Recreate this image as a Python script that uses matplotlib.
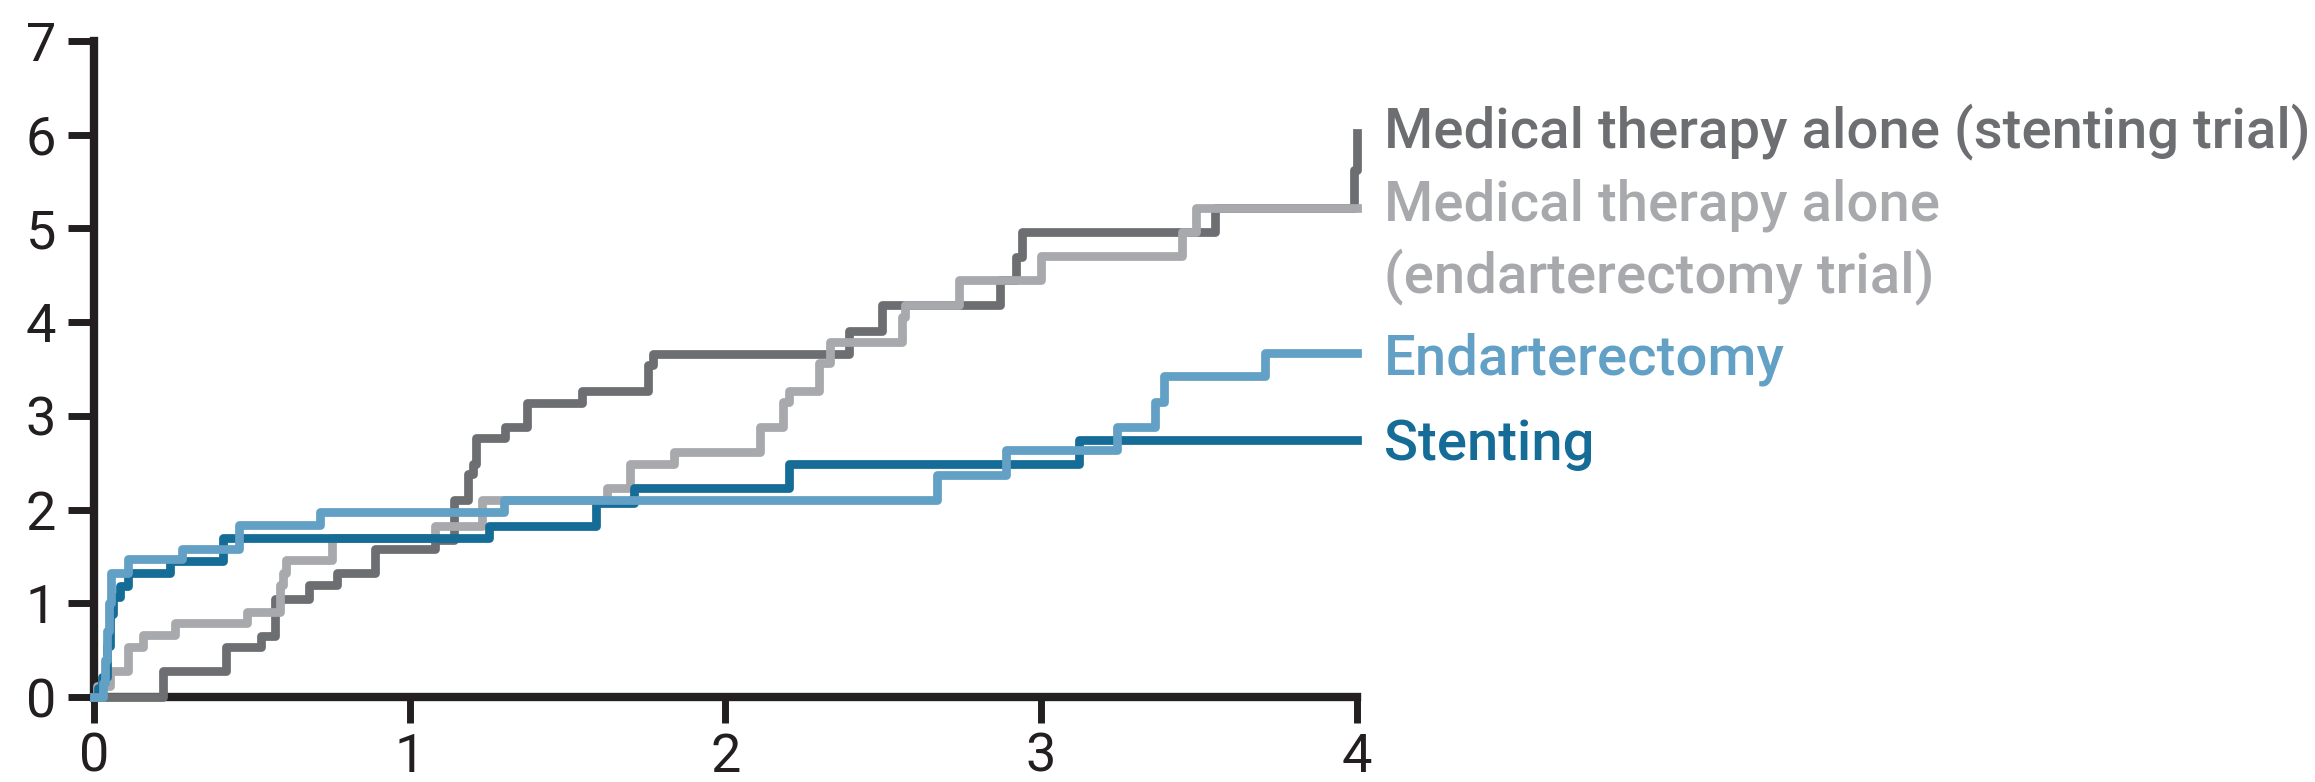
import numpy as np
import matplotlib
matplotlib.use("Agg")
import matplotlib.pyplot as plt

# Years of follow-up (step positions) and cumulative event rate (%) after each step
stent_med_t = [0, 0.219, 0.42, 0.53, 0.574, 0.68, 0.77, 0.89, 1.08, 1.14, 1.186, 1.20, 1.21,
               1.302, 1.371, 1.545, 1.756, 1.77, 2.39, 2.495, 2.87, 2.92, 2.94, 3.55, 3.99, 4.0]
stent_med_v = [0, 0.28, 0.53, 0.65, 1.05, 1.19, 1.32, 1.58, 1.68, 2.10, 2.38, 2.49, 2.76,
               2.88, 3.14, 3.27, 3.54, 3.66, 3.91, 4.18, 4.45, 4.70, 4.96, 5.22, 5.62, 6.02]

endo_med_t = [0, 0.01, 0.05, 0.11, 0.157, 0.258, 0.485, 0.59, 0.60, 0.61, 0.754, 1.08, 1.23,
              1.624, 1.698, 1.836, 2.11, 2.184, 2.20, 2.295, 2.33, 2.56, 2.57, 2.74, 3.00,
              3.445, 3.49, 4.0]
endo_med_v = [0, 0.12, 0.28, 0.53, 0.66, 0.79, 0.91, 1.20, 1.32, 1.46, 1.70, 1.83, 2.10,
              2.23, 2.49, 2.61, 2.88, 3.15, 3.27, 3.56, 3.79, 4.05, 4.18, 4.45, 4.71,
              4.96, 5.22, 5.22]

endo_t = [0, 0.03, 0.036, 0.042, 0.048, 0.055, 0.11, 0.279, 0.46, 0.717, 1.30, 2.67, 2.89,
          3.24, 3.36, 3.39, 3.71, 4.0]
endo_v = [0, 0.15, 0.40, 0.70, 1.00, 1.32, 1.47, 1.58, 1.84, 1.97, 2.10, 2.37, 2.64,
          2.88, 3.15, 3.42, 3.67, 3.67]

stent_t = [0, 0.015, 0.025, 0.041, 0.052, 0.062, 0.083, 0.11, 0.24, 0.41, 1.25, 1.59, 1.71,
           2.20, 3.12, 4.0]
stent_v = [0, 0.10, 0.21, 0.54, 0.89, 1.07, 1.18, 1.32, 1.45, 1.70, 1.83, 2.07, 2.23,
           2.49, 2.74, 2.74]

x_ticks = [0, 1, 2, 3, 4]
y_ticks = [0, 1, 2, 3, 4, 5, 6, 7]

c_stent_med = '#6d6e71'
c_endo_med = '#a7a9ac'
c_endo = '#63a0c5'
c_stent = '#156c96'
c_axis = '#231f20'

plt.rcParams['font.family'] = ['Roboto', 'DejaVu Sans']

fig = plt.figure(figsize=(23.15, 7.82), dpi=100)
ax = fig.add_axes([93.75 / 2315, 85 / 782, (1357 - 93.75) / 2315, 656 / 782])

lw = 6.3
ax.step(stent_med_t, stent_med_v, where='post', color=c_stent_med, lw=lw, zorder=3, clip_on=False)
ax.step(endo_med_t, endo_med_v, where='post', color=c_endo_med, lw=lw, zorder=4, clip_on=False)
ax.step(stent_t, stent_v, where='post', color=c_stent, lw=lw, zorder=5, clip_on=False)
ax.step(endo_t, endo_v, where='post', color=c_endo, lw=lw, zorder=6, clip_on=False)

ax.set_xlim(0, 4)
ax.set_ylim(0, 7)
ax.set_xticks(x_ticks)
ax.set_yticks(y_ticks)
for s in ['top', 'right']:
    ax.spines[s].set_visible(False)
for s in ['left', 'bottom']:
    ax.spines[s].set_linewidth(6.0)
    ax.spines[s].set_color(c_axis)
ax.tick_params(axis='both', length=19, width=5.0, color=c_axis, labelcolor=c_axis, labelsize=39)
ax.tick_params(axis='y', pad=8)
ax.tick_params(axis='x', pad=6)

# Curve labels at the right end
fs = 40.5
x0 = 1384 / 2315
lab = dict(fontsize=fs, fontweight='medium', va='baseline')
fig.text(x0, 1 - 147 / 782, 'Medical therapy alone (stenting trial)', color=c_stent_med, **lab)
fig.text(x0, 1 - 221 / 782, 'Medical therapy alone', color=c_endo_med, **lab)
fig.text(x0, 1 - 292 / 782, '(endarterectomy trial)', color=c_endo_med, **lab)
fig.text(x0, 1 - 375 / 782, 'Endarterectomy', color=c_endo, **lab)
fig.text(x0, 1 - 460 / 782, 'Stenting', color=c_stent, **lab)

fig.savefig('out.png', dpi=100, facecolor='white')
